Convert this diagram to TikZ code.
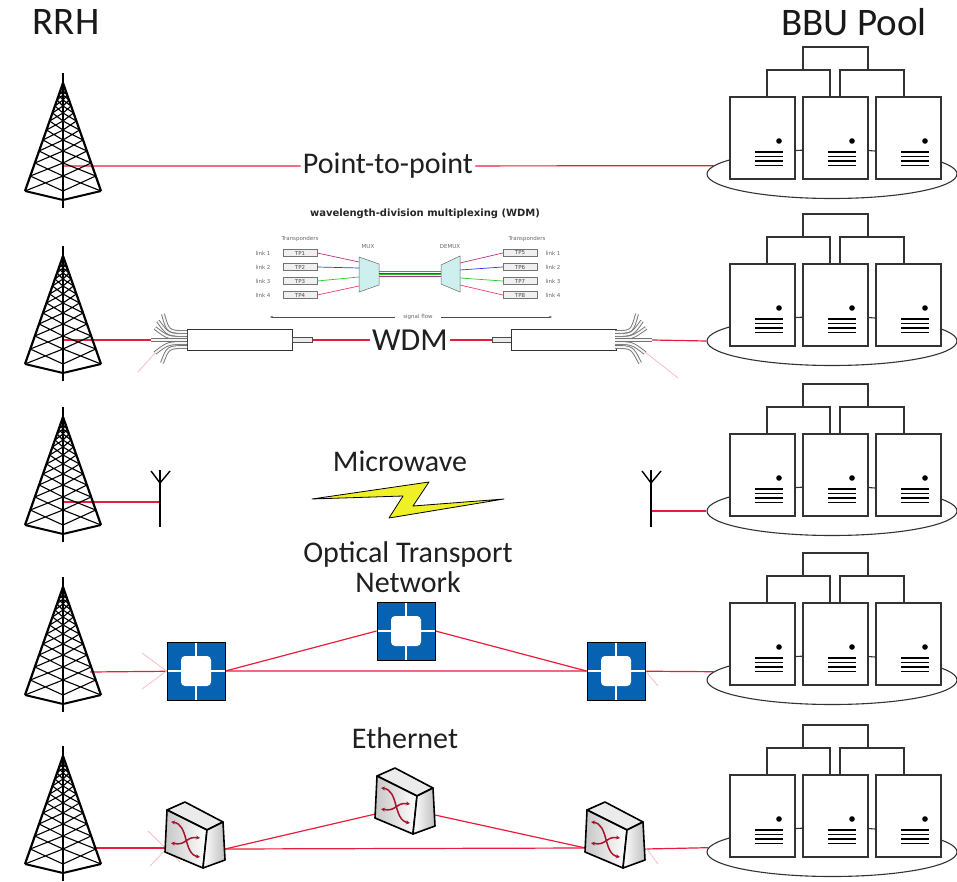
\documentclass[tikz,border=0pt]{standalone}
\usepackage{fontspec}
\setmainfont{Carlito}
\newfontfamily\smallsans{DejaVu Sans}
\usetikzlibrary{shapes.geometric,arrows.meta}
\pgfdeclarelayer{background}
\pgfsetlayers{background,main}

\definecolor{linkred}{RGB}{232,28,60}
\definecolor{otnblue}{RGB}{8,98,178}
\definecolor{boltyellow}{RGB}{240,240,40}
\definecolor{swred}{RGB}{165,20,45}
\definecolor{wdmone}{RGB}{180,50,130}
\definecolor{wdmtwo}{RGB}{40,60,230}
\definecolor{wdmthree}{RGB}{40,200,40}
\definecolor{wdmfour}{RGB}{240,60,110}
\definecolor{muxfill}{RGB}{205,240,238}

\tikzset{
  link/.style={draw=linkred, line width=1.2pt},
  faint/.style={draw=linkred!30, line width=0.8pt},
  header/.style={font=\fontsize{39}{40}\selectfont, text=black!90},
  lbl/.style={font=\fontsize{30}{30}\selectfont, text=black!88, inner sep=2pt},
  smalltxt/.style={font=\smallsans\fontsize{5.5}{6.5}\selectfont, text=black!60, inner sep=0.5pt},
  smalltitle/.style={font=\smallsans\bfseries\fontsize{10}{11}\selectfont, text=black!85},
  tpbox/.style={draw=black!55, fill=black!6, minimum width=34pt, minimum height=7pt, inner sep=0pt,
    font=\smallsans\fontsize{5.5}{6}\selectfont, text=black!70},
  muxbox/.style={draw=black!60, fill=muxfill, line width=0.5pt},
  sigline/.style={draw=black!70, line width=0.5pt, -{Stealth[length=3pt]}},
  cyl/.style={draw=black!80, fill=white, line width=0.9pt, minimum width=105pt, minimum height=21pt, inner sep=0pt},
  stub/.style={draw=black!70, fill=black!8, line width=0.7pt, minimum width=20pt, minimum height=5pt, inner sep=0pt},
  tube/.style={draw=black!55, double=black!4, double distance=2pt, line width=0.9pt},
  bolt/.style={fill=boltyellow, draw=black, line width=0.8pt, line join=round},
  ring/.style={draw=black!80, ellipse, minimum width=250pt, minimum height=49pt, inner sep=0pt, line width=1.1pt},
  unit/.style={draw=black!80, fill=white, line width=1.2pt},
  otn/.style={draw=black, line width=0.9pt, fill=otnblue, minimum size=58pt, inner sep=0pt,
    path picture={
      \draw[white, line width=1.3pt] (path picture bounding box.north) -- (path picture bounding box.south)
        (path picture bounding box.west) -- (path picture bounding box.east);
      \fill[white, rounded corners=4pt] ([shift={(-15,-15)}]path picture bounding box.center)
        rectangle ([shift={(15,15)}]path picture bounding box.center);
    }},
  swface/.style={draw=black, line width=1.6pt, line join=round},
  swarrow/.style={draw=swred, line width=1.5pt, <->, >={Stealth[length=4pt,width=4pt]}},
  pics/tower/.style={code={
    \draw[line width=2.8pt] (0,0) -- (0,22);
    \draw[line width=2.2pt, line join=round] (-38,118) -- (0,10) -- (38,118);
    \draw[line width=2pt] (0,10) -- (0,135);
    \draw[line width=2pt, line join=round] (-38,118) -- (0,127) -- (38,118);
    \foreach \ya/\yb in {14/18,18/22,22/27,27/33,33/40,40/48,48/57,57/67,67/78,78/90,90/103,103/118}
      \draw[line width=1.1pt] ({-38*(\ya-10)/108},\ya) -- (0,\yb) -- ({38*(\ya-10)/108},\ya)
        ({-38*(\yb-10)/108},\yb) -- (0,\ya) -- ({38*(\yb-10)/108},\yb);
  }},
  pics/bbupool/.style={code={
    \node[ring] (-ring) at (0,0) {};
    \path[unit] (-29,-104) -- (-29,-127) -- (36,-127) -- (36,-104);
    \path[unit] (-65,-77) -- (-65,-104) -- (-2,-104) -- (-2,-77);
    \path[unit] (8,-77) -- (8,-104) -- (72,-104) -- (72,-77);
    \foreach \sx in {-102,-29,44} {
      \path[unit] (\sx,-77) rectangle ++(65,82);
      \fill (\sx+49,-33) circle (2.8);
      \foreach \ly in {-22,-17.5,-13,-8.5}
        \draw[line width=1.8pt] (\sx+25,\ly) -- ++(28,0);
    }
  }},
  pics/antenna/.style={code={
    \draw[line width=1.4pt] (0,0) -- (0,57);
    \draw[line width=1.4pt, line join=round] (-9,1) -- (0,13) -- (10,1);
  }},
  pics/ethswitch/.style={code={
    \coordinate (-w) at (0.5,46);
    \coordinate (-e) at (60,47);
    \path[swface, fill=black!8] (2,8) -- (20,0) -- (58,20) -- (42,28) -- cycle;
    \path[swface, left color=black!22, right color=white] (2,8) -- (42,28) -- (38,66) -- (0,50) -- cycle;
    \path[swface, left color=white, right color=black!25] (42,28) -- (58,20) -- (60,58) -- (38,66) -- cycle;
    \draw[swarrow] (6,20) .. controls (24,22) and (18,52) .. (35,55);
    \draw[swarrow] (6,41) .. controls (22,44) and (20,34) .. (35,36);
  }},
}

\begin{document}
\begin{tikzpicture}[x=1pt,y=-1pt]
\useasboundingbox (0,0) rectangle (957,882);
\clip (0,0) rectangle (957,882);

\node[header] (rrh) at (66,22) {RRH};
\node[header] (bbu) at (854,22) {BBU Pool};

\foreach \n/\ty in {1/73,2/246,3/407,4/577,5/746}
  \pic (rrh\n) at (63,\ty) {tower};
\foreach \n/\py in {1/174,2/341,3/511,4/680,5/852}
  \pic (p\n) at (832,\py) {bbupool};

\coordinate (t1) at (63,166);
\coordinate (t2) at (63,340);
\coordinate (t3) at (63,502);
\coordinate (t4) at (90,672);
\coordinate (t5) at (95,848);

% point-to-point
\node[lbl, fill=white] (p2p) at (388,166) {Point-to-point};

% wdm
\node[smalltitle] (wdmtitle) at (425,214) {wavelength-division multiplexing (WDM)};
\node[smalltxt] (trl) at (300,239) {Transponders};
\node[smalltxt] (trr) at (527,239) {Transponders};
\node[smalltxt] (muxlbl) at (368,247) {MUX};
\node[smalltxt] (demuxlbl) at (450,247) {DEMUX};
\draw[muxbox] (359,257) -- (379,264) -- (379,285) -- (359,292) -- cycle;
\draw[muxbox] (441,265) -- (460,256) -- (460,292) -- (441,284) -- cycle;
\foreach \c/\y in {wdmfour/271.5,wdmtwo/273,wdmthree/274.5,wdmone/276}
  \draw[\c, line width=0.6pt] (379,\y) -- (441,\y);
\foreach \i/\j/\y/\c/\ya/\yb in {1/5/253/wdmone/262/263, 2/6/267/wdmtwo/268/270,
    3/7/281/wdmthree/277/278, 4/8/295/wdmfour/286/285} {
  \node[tpbox] (tp\i) at (300,\y) {TP\i};
  \node[smalltxt] (lkl\i) at (263,\y) {link \i};
  \node[tpbox] (tp\j) at (520,\y) {TP\j};
  \node[smalltxt] (lkr\i) at (553,\y) {link \i};
  \coordinate (mi\i) at (359,\ya);
  \coordinate (do\i) at (460,\yb);
  \draw[\c, line width=0.7pt] (tp\i.east) -- (mi\i);
  \draw[\c, line width=0.7pt] (do\i) -- (tp\j.west);
}
\node[smalltxt, inner sep=8pt] (sigflow) at (418,317) {signal flow};
\coordinate (sfl) at (270,317);
\coordinate (sfr) at (552,317);
\draw[sigline] (sigflow) -- (sfl);
\draw[sigline] (sigflow) -- (sfr);

\node[cyl] (cylL) at (239.5,340) {};
\node[stub] (stubL) at (302,340) {};
\node[stub] (stubR) at (502,340) {};
\node[cyl] (cylR) at (563.5,340) {};
\foreach \sy/\ex/\ey in {332/163/314, 335/158/321, 338/155/328, 340/151/340, 343/155/353, 347/162/363}
  \draw[tube] (187,\sy) .. controls (168,\sy) .. (\ex,\ey);
\foreach \sy/\ex/\ey in {332/637/314, 335/642/321, 338/646/328, 340/652/340, 343/645/353, 347/640/363}
  \draw[tube] (615,\sy) .. controls (632,\sy) .. (\ex,\ey);
\coordinate (fanR) at (652,340);
\node[lbl, font=\fontsize{32}{32}\selectfont, fill=white] (wdm) at (410,340) {WDM};

% microwave
\node[lbl] (mwlbl) at (400,461) {Microwave};
\pic (antL) at (160,470) {antenna};
\pic (antR) at (651,470) {antenna};
\coordinate (mwL) at (160,502);
\coordinate (mwR) at (651,511);
\draw[bolt] (312,499) -- (429,482) -- (413,506) -- (504,499) -- (389,518) -- (403,496) -- cycle;

% otn
\node[lbl, align=center] (otnlbl) at (408,567) {Optical Transport\\Network};
\node[otn] (o1) at (196,671) {};
\node[otn] (o2) at (406,631) {};
\node[otn] (o3) at (616,671) {};

% ethernet
\node[lbl] (ethlbl) at (405,738) {Ethernet};
\pic (e1) at (165,802) {ethswitch};
\pic (e2) at (375,768) {ethswitch};
\pic (e3) at (585,802) {ethswitch};

\begin{pgfonlayer}{background}
\draw[link] (t1) -- (p2p) -- (p1-ring.176);
\draw[link] (t2) -- (cylL);
\draw[link] (stubL) -- (wdm) -- (stubR);
\draw[link] (fanR) -- (p2-ring.west);
\draw[link] (t3) -- (mwL);
\draw[link] (mwR) -- (p3-ring.west);
\draw[link] (t4) -- (o1) -- (o3) -- (p4-ring.176);
\draw[link] (o1.east) -- (o2.west);
\draw[link] (o2.east) -- (o3.west);
\draw[link] (t5) -- (e1-w);
\draw[link] (e1-e) -- (e3-w);
\draw[link] (e1-e) -- (e2-w);
\draw[link] (e2-e) -- (e3-w);
\draw[link] (e3-e) -- (p5-ring.178);
\draw[faint] (155,353) -- (138,372);
\draw[faint] (645,352) -- (678,378);
\draw[faint] (142,653) -- (o1.west) -- (142,689);
\draw[faint] (o3.east) -- (658,686);
\draw[faint] (148,831) -- (180,862);
\draw[faint] (150,866) -- (175,840);
\draw[faint] (646,848) -- (658,864);
\end{pgfonlayer}
\end{tikzpicture}
\end{document}
